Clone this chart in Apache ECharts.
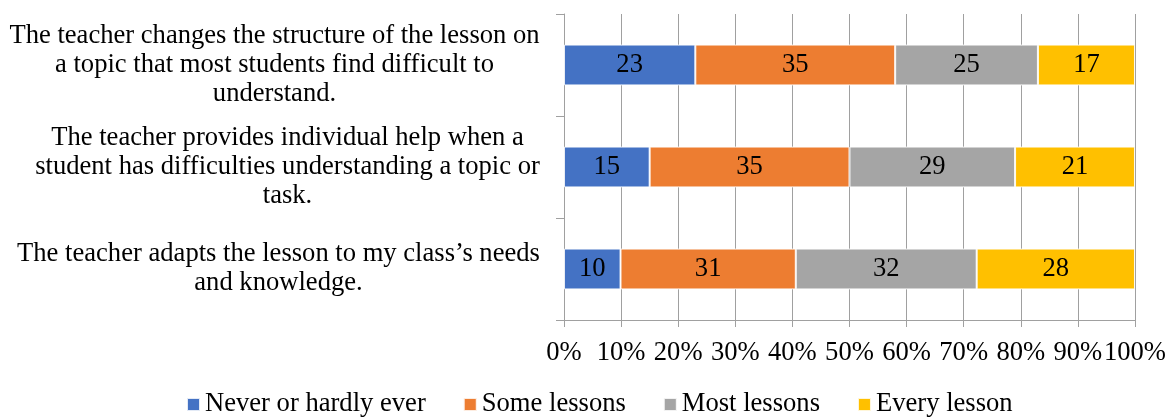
<!DOCTYPE html>
<html>
<head>
<meta charset="utf-8">
<script src="https://cdn.jsdelivr.net/npm/echarts@6/dist/echarts.min.js"></script>
<style>
html,body{margin:0;padding:0;background:#fff;}
#chart{width:1169px;height:418px;}
</style>
</head>
<body>
<div id="chart"></div>
<script>
// ---- data ----
const categories = [
  "The teacher changes the structure of the lesson on\na topic that most students find difficult to\nunderstand.",
  "The teacher provides individual help when a\nstudent has difficulties understanding a topic or\ntask.",
  "The teacher adapts the lesson to my class\u2019s needs\nand knowledge."
];
const seriesNames = ["Never or hardly ever", "Some lessons", "Most lessons", "Every lesson"];
const neverValues = [23, 15, 10];
const someValues  = [35, 35, 31];
const mostValues  = [25, 29, 32];
const everyValues = [17, 21, 28];
const xTickLabels = ["0%","10%","20%","30%","40%","50%","60%","70%","80%","90%","100%"];

const colors = ["#4472C4", "#ED7D31", "#A5A5A5", "#FFC000"];
const FONT = "'Liberation Serif', 'Times New Roman', serif";
const FS = 26.6;
const LINE = '#a0a0a0';

const raw = [neverValues, someValues, mostValues, everyValues];
const totals = categories.map((_, i) => raw.reduce((s, arr) => s + arr[i], 0));

// measure widths for centred multi-line labels
const cv = document.createElement('canvas').getContext('2d');
cv.font = FS + "px " + FONT;
const rich = {};
categories.forEach((c, i) => {
  const w = Math.max(...c.split('\n').map(l => cv.measureText(l).width));
  rich['c' + i] = { width: Math.ceil(w), align: 'center', fontSize: FS, fontFamily: FONT, color: '#000', lineHeight: 29 };
});

const chart = echarts.init(document.getElementById('chart'));
const series = raw.map((arr, si) => ({
  name: seriesNames[si],
  type: 'bar',
  stack: 'total',
  barWidth: '40%',
  itemStyle: { color: colors[si], borderColor: 'rgba(255,255,255,0.85)', borderWidth: 1 },
  label: {
    show: true,
    position: 'inside',
    color: '#000',
    fontSize: FS,
    fontFamily: FONT,
    formatter: p => String(arr[p.dataIndex])
  },
  emphasis: { disabled: true },
  data: arr.map((v, i) => v / totals[i] * 100)
}));

chart.setOption({
  animation: false,
  grid: { left: 564, right: 33, top: 14, bottom: 98, containLabel: false },
  legend: {
    data: seriesNames,
    left: 186,
    top: 391,
    padding: 0,
    icon: 'rect',
    itemWidth: 13,
    itemHeight: 13,
    itemGap: 37,
    textStyle: { fontSize: FS, fontFamily: FONT, color: '#000' }
  },
  xAxis: {
    type: 'value',
    min: 0,
    max: 100,
    interval: 10,
    axisLine: { show: true, lineStyle: { color: LINE, width: 1 } },
    axisTick: { show: true, length: 7, lineStyle: { color: LINE } },
    splitLine: { show: true, lineStyle: { color: LINE, width: 1 } },
    axisLabel: {
      margin: 20,
      fontSize: FS,
      fontFamily: FONT,
      color: '#000',
      formatter: v => xTickLabels[Math.round(v / 10)]
    }
  },
  yAxis: {
    type: 'category',
    inverse: true,
    data: categories,
    axisLine: { show: true, lineStyle: { color: LINE, width: 1 } },
    axisTick: { show: true, length: 8, lineStyle: { color: LINE } },
    axisLabel: {
      margin: 24,
      formatter: (v, i) => v.split('\n').map(l => '{c' + i + '|' + l + '}').join('\n'),
      rich: rich
    }
  },
  series: series
});
</script>
</body>
</html>
